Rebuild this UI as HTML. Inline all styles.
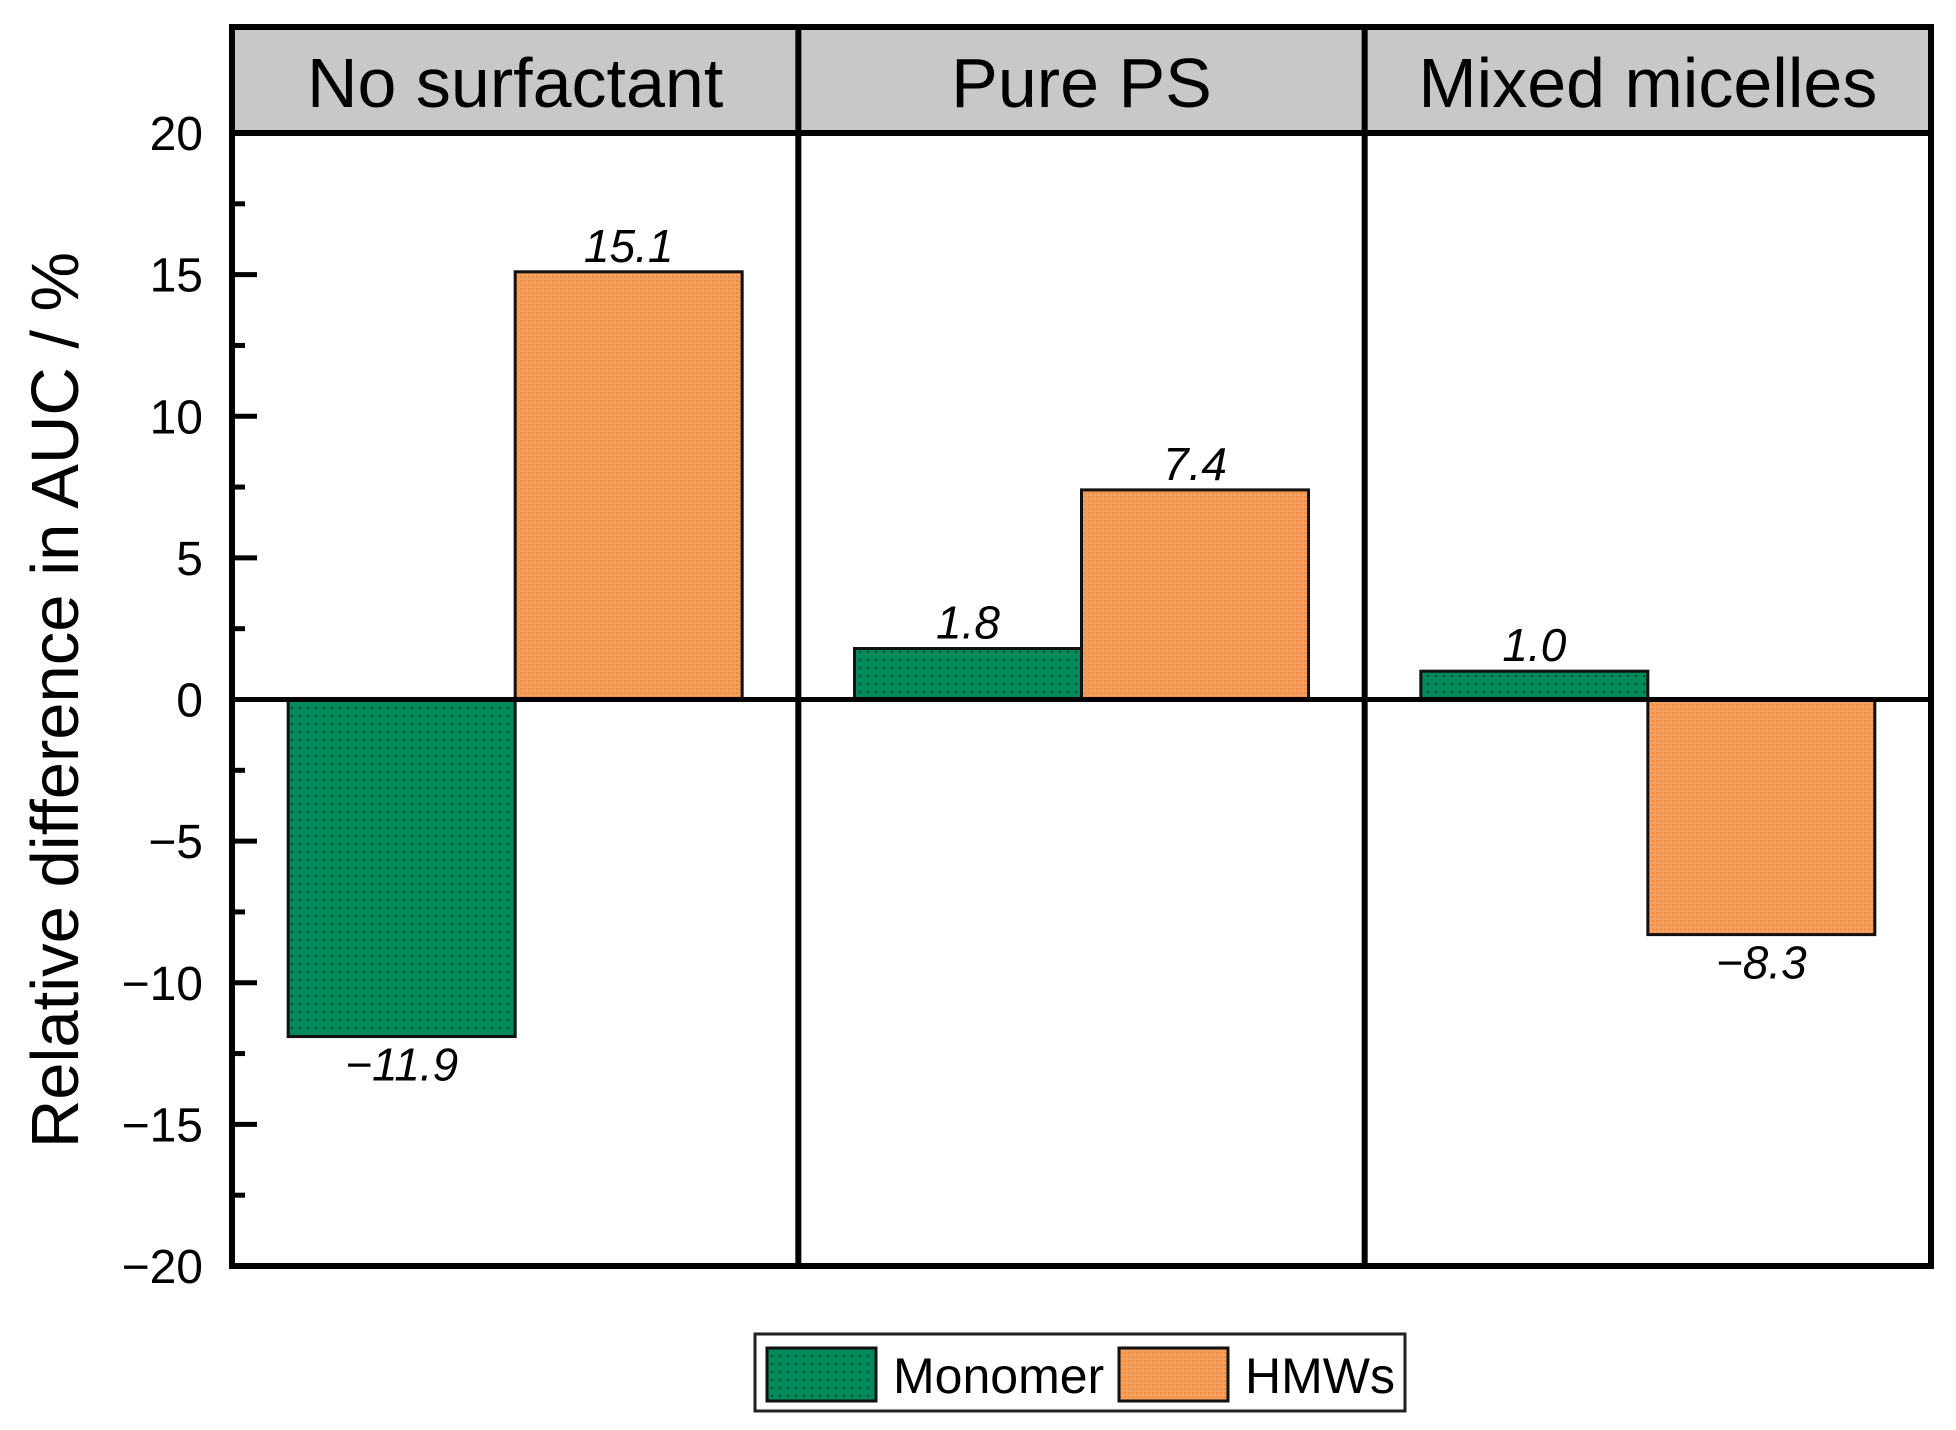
<!DOCTYPE html>
<html><head><meta charset="utf-8"><style>
html,body{margin:0;padding:0;background:#fff}
svg{display:block;font-family:"Liberation Sans",Arial,sans-serif}
</style></head><body>
<svg id="chart" width="1956" height="1430" viewBox="0 0 1956 1430" xmlns="http://www.w3.org/2000/svg">
<defs>
<pattern id="dotG" width="8" height="8" patternUnits="userSpaceOnUse"><rect width="8" height="8" fill="#008a5a"/><rect x="3" y="3" width="2" height="2" fill="#0a4a30"/></pattern>
<pattern id="dotO" width="4" height="4" patternUnits="userSpaceOnUse"><rect width="4" height="4" fill="#f0a060"/><rect x="0" y="0" width="2" height="2" fill="#f58a3a"/></pattern>
</defs>
<g id="layer"></g>
</svg>
<script>
const panels = ["No surfactant", "Pure PS", "Mixed micelles"];
const monomer = [-11.9, 1.8, 1.0];
const hmws = [15.1, 7.4, -8.3];
const monomerLabels = ["\u221211.9", "1.8", "1.0"];
const hmwLabels = ["15.1", "7.4", "\u22128.3"];
const yTicks = [20, 15, 10, 5, 0, -5, -10, -15, -20];
const yTickLabels = ["20", "15", "10", "5", "0", "\u22125", "\u221210", "\u221215", "\u221220"];
const yMinor = [17.5, 12.5, 7.5, 2.5, -2.5, -7.5, -12.5, -17.5];

const NS = "http://www.w3.org/2000/svg";
const g = document.getElementById('layer');
const L = 232, R = 1931, T = 133, B = 1266, HT = 27;
const yMin = -20, yMax = 20;
const pw = (R - L) / panels.length;
function y(v){ return B - (v - yMin) / (yMax - yMin) * (B - T); }
function mk(tag, attrs, text){
  const e = document.createElementNS(NS, tag);
  for (const k in attrs) e.setAttribute(k, attrs[k]);
  if (text !== undefined) e.textContent = text;
  g.appendChild(e); return e;
}
let e = mk('rect', {x:L, y:HT, width:R-L, height:T-HT, fill:'#c8c8c8'});


panels.forEach((p, i) => {
  const t = mk('text', {x:L + pw*i + pw/2, y:T-26, 'font-size':70, 'text-anchor':'middle', fill:'#000'}, p);
  
  
});
const bw = 227, off = (pw - 2*bw) / 2;
function bar(i, k, v, fill, name, lab){
  const x0 = L + pw*i + off + k*bw;
  const y0 = Math.min(y(v), y(0)), h = Math.abs(y(v) - y(0));
  const r = mk('rect', {x:x0, y:y0, width:bw, height:h, fill:fill, stroke:'#111', 'stroke-width':3});
  
  
  const ty = v >= 0 ? y(v) - 10 : y(v) + 44;
  const t = mk('text', {x:x0 + bw/2, y:ty, 'font-size':46, 'font-style':'italic', 'text-anchor':'middle', fill:'#000'}, lab);
  
  
}
panels.forEach((p, i) => {
  bar(i, 0, monomer[i], 'url(#dotG)', 'monomer-bar', monomerLabels[i]);
  bar(i, 1, hmws[i], 'url(#dotO)', 'hmws-bar', hmwLabels[i]);
});
e = mk('line', {x1:L, x2:R, y1:y(0), y2:y(0), stroke:'#000', 'stroke-width':5});


e = mk('rect', {x:L, y:HT, width:R-L, height:B-HT, fill:'none', stroke:'#000', 'stroke-width':6});


e = mk('line', {x1:L, x2:R, y1:T, y2:T, stroke:'#000', 'stroke-width':6});


for (let i = 1; i < panels.length; i++) {
  e = mk('line', {x1:L+pw*i, x2:L+pw*i, y1:HT, y2:B, stroke:'#000', 'stroke-width':6});
  
  
}
yTicks.forEach((v, i) => {
  const l = mk('line', {x1:L, x2:L+25, y1:y(v), y2:y(v), stroke:'#000', 'stroke-width':5});
  
  
  const t = mk('text', {x:203, y:y(v)+17, 'font-size':48, 'text-anchor':'end', fill:'#000'}, yTickLabels[i]);
  
  
});
yMinor.forEach(v => {
  const l = mk('line', {x1:L, x2:L+13, y1:y(v), y2:y(v), stroke:'#000', 'stroke-width':5});
  
  
});
e = mk('text', {x:0, y:0, 'font-size':67, 'text-anchor':'middle', fill:'#000', transform:'translate(78,700) rotate(-90)'}, 'Relative difference in AUC / %');


e = mk('rect', {x:755, y:1334, width:650, height:77, fill:'#fff', stroke:'#222', 'stroke-width':3});


e = mk('rect', {x:767, y:1348, width:109, height:53, fill:'url(#dotG)', stroke:'#111', 'stroke-width':3});


e = mk('text', {x:893, y:1393, 'font-size':50, fill:'#000'}, 'Monomer');


e = mk('rect', {x:1119, y:1348, width:109, height:53, fill:'url(#dotO)', stroke:'#111', 'stroke-width':3});


e = mk('text', {x:1245, y:1393, 'font-size':50, fill:'#000'}, 'HMWs');


</script>
</body></html>
